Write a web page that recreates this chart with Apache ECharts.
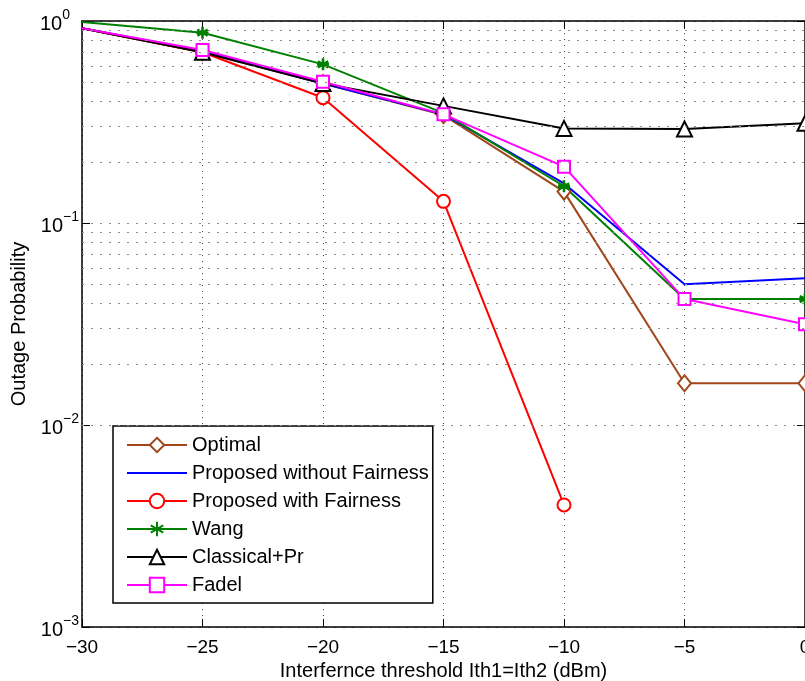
<!DOCTYPE html>
<html>
<head>
<meta charset="utf-8">
<script src="https://cdn.jsdelivr.net/npm/echarts@6/dist/echarts.min.js"></script>
<style>
html,body{margin:0;padding:0;background:#fff;}
#chart{width:805px;height:681px;}
</style>
</head>
<body>
<div id="chart"></div>
<script>
const thresholds = [-30, -25, -20, -15, -10, -5, 0];
const optimal = [0.92, 0.70, 0.49, 0.342, 0.143, 0.0161, 0.0161];
const proposedNoFair = [0.92, 0.71, 0.49, 0.345, 0.157, 0.0497, 0.0532];
const proposedFair = [0.92, 0.70, 0.417, 0.128, 0.00402];
const wang = [0.99, 0.875, 0.61, 0.35, 0.152, 0.042, 0.042];
const classical = [0.92, 0.70, 0.49, 0.38, 0.294, 0.292, 0.312];
const fadel = [0.92, 0.718, 0.50, 0.345, 0.19, 0.042, 0.0315];
const decades = [0.001, 0.01, 0.1];
const minorMultipliers = [2, 3, 4, 5, 6, 7, 8, 9];
const legendNames = ['Optimal', 'Proposed without Fairness', 'Proposed with Fairness', 'Wang', 'Classical+Pr', 'Fadel'];

const FONT = '"Liberation Sans", Arial, sans-serif';
const minorLines = [];
decades.forEach(d => minorMultipliers.forEach(m => minorLines.push({yAxis: d * m})));

// first point (x = -30) drawn without marker, as in the reference
function pairs(vals) {
  return vals.map((v, i) => i === 0 ? {value: [thresholds[i], v], symbol: 'none'} : [thresholds[i], v]);
}

const star = 'path://M0,-10 L0,10 M-8.66,-5 L8.66,5 M-8.66,5 L8.66,-5 M-10,0 L10,0';

function mk(name, color, vals, symbol, size, extra) {
  return Object.assign({
    name: name, type: 'line', data: pairs(vals), z: 3,
    symbol: symbol, symbolSize: size, showAllSymbol: true, clip: false,
    lineStyle: {color: color, width: 2},
    itemStyle: {color: color, borderColor: color, borderWidth: 1.8},
    emphasis: {disabled: true}
  }, extra || {});
}

const series = [
  mk('Optimal', '#a0461a', optimal, 'emptyDiamond', [13, 16]),
  mk('Proposed without Fairness', '#0000ff', proposedNoFair, 'none', 0),
  mk('Proposed with Fairness', '#ff0000', proposedFair, 'emptyCircle', 13),
  mk('Wang', '#008000', wang, star, 12, {itemStyle: {color: 'none', borderColor: '#008000', borderWidth: 2.6}}),
  mk('Classical+Pr', '#000000', classical, 'emptyTriangle', 15),
  mk('Fadel', '#ff00ff', fadel, 'emptyRect', 12),
  {
    name: 'grid-minor', type: 'line', data: [], z: 1, silent: true,
    markLine: {
      silent: true, symbol: 'none', label: {show: false}, animation: false,
      lineStyle: {color: '#8c8c8c', type: [2, 7], width: 1},
      data: minorLines
    }
  }
];

function yLabel(v) {
  const e = Math.round(Math.log10(v));
  const es = String(e).replace('-', '\u2212');
  return '{b|10}{' + (e === 0 ? 's0' : 's') + '|' + es + '}';
}

const chart = echarts.init(document.getElementById('chart'), null, {renderer: 'canvas'});
chart.setOption({
  animation: false,
  backgroundColor: '#ffffff',
  textStyle: {fontFamily: FONT},
  grid: {left: 82, right: 0, top: 21, bottom: 54, show: false, containLabel: false, outerBoundsMode: 'none'},
  legend: {
    data: legendNames.map(n => n === 'Proposed without Fairness'
      ? {name: n, itemStyle: {opacity: 0}} : {name: n}),
    orient: 'vertical', left: 113, top: 426,
    itemWidth: 60, itemHeight: 18, itemGap: 8,
    padding: [9, 4, 8, 13],
    backgroundColor: '#ffffff', borderColor: '#000000', borderWidth: 1.5,
    textStyle: {fontFamily: FONT, fontSize: 20, color: '#000'},
    selectedMode: false
  },
  xAxis: [{
    type: 'value', min: -30, max: 0, interval: 5,
    name: 'Interfernce threshold Ith1=Ith2 (dBm)', nameLocation: 'middle', nameGap: 32,
    nameTextStyle: {fontFamily: FONT, fontSize: 20, color: '#000'},
    axisLine: {show: true, onZero: false, lineStyle: {color: '#000', width: 1.5}},
    axisTick: {show: true, inside: true, length: 8, lineStyle: {color: '#000'}},
    axisLabel: {fontFamily: FONT, fontSize: 19, color: '#000', margin: 11,
      formatter: v => String(v).replace('-', '\u2212')},
    splitLine: {show: true, lineStyle: {color: '#444', type: [1, 5], width: 1}}
  }, {
    type: 'value', min: -30, max: 0, interval: 5, position: 'top',
    axisLine: {show: true, onZero: false, lineStyle: {color: '#000', width: 1.5}},
    axisTick: {show: true, inside: true, length: 8, lineStyle: {color: '#000'}},
    axisLabel: {show: false}, splitLine: {show: false}
  }],
  yAxis: [{
    type: 'log', min: 0.001, max: 1, logBase: 10,
    name: 'Outage Probability', nameLocation: 'middle', nameGap: 44,
    nameTextStyle: {fontFamily: FONT, fontSize: 20, color: '#000'},
    axisLine: {show: true, onZero: false, lineStyle: {color: '#000', width: 1.5}},
    axisTick: {show: true, inside: true, length: 8, lineStyle: {color: '#000'}},
    axisLabel: {
      color: '#000', margin: 3, formatter: yLabel,
      rich: {
        b: {fontFamily: FONT, fontSize: 20, color: '#000', padding: [6, 0, 0, 0]},
        s: {fontFamily: FONT, fontSize: 14, color: '#000', verticalAlign: 'top', padding: [0, 0, 6, 0]},
        s0: {fontFamily: FONT, fontSize: 14, color: '#000', verticalAlign: 'top', padding: [0, 9, 6, 0]}
      }
    },
    splitLine: {show: true, lineStyle: {color: '#8c8c8c', type: [2, 7], width: 1}}
  }, {
    type: 'log', min: 0.001, max: 1, logBase: 10, position: 'right',
    axisLine: {show: true, onZero: false, lineStyle: {color: '#000', width: 1.5}},
    axisTick: {show: true, inside: true, length: 8, lineStyle: {color: '#000'}},
    axisLabel: {show: false}, splitLine: {show: false}
  }],
  series: series
});
</script>
</body>
</html>
